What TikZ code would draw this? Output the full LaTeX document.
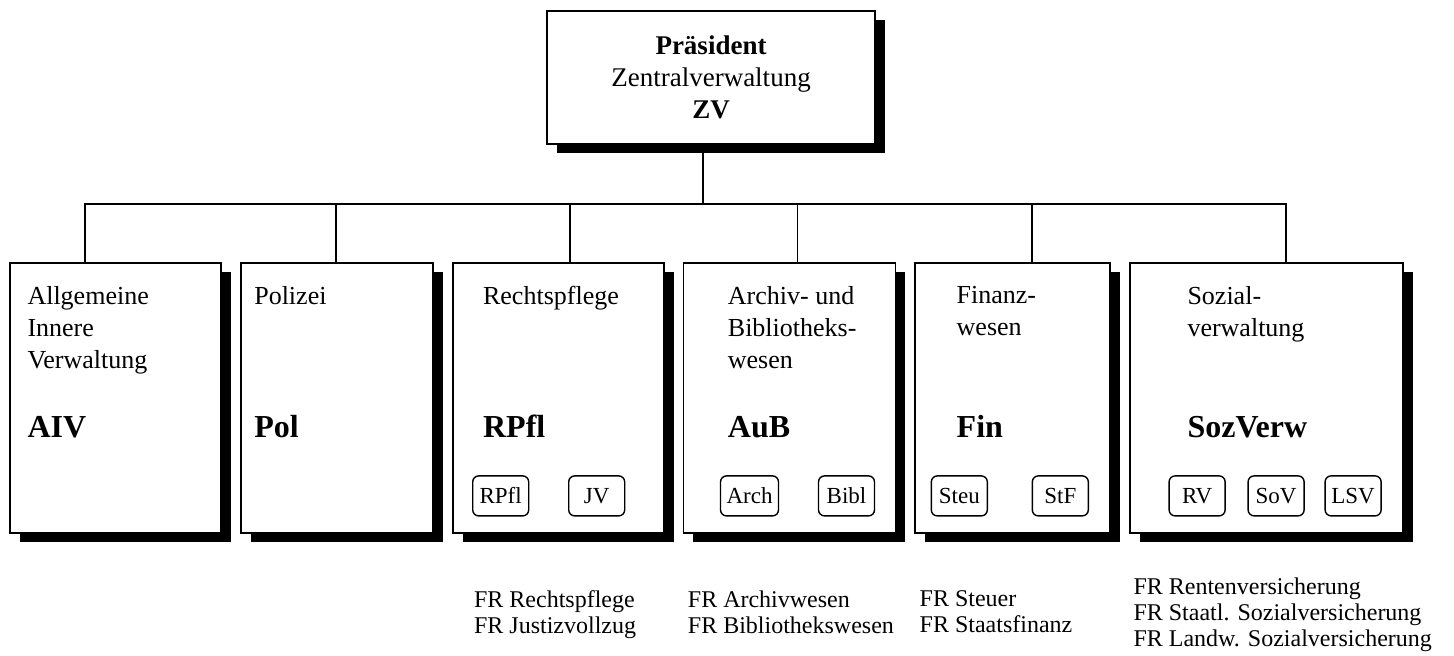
\documentclass[tikz,border=0pt]{standalone}
\usepackage{fontspec}
\setmainfont{Liberation Serif}
\usepackage{tikz}
\usetikzlibrary{positioning,calc,shadows}

\begin{document}
\begin{tikzpicture}[
  node distance=9pt,
  line/.style={line width=0.9pt},
  dept/.style={rectangle, draw, line width=0.9pt, fill=white, minimum height=135pt, inner sep=0pt,
    drop shadow={shadow xshift=5pt, shadow yshift=-4.5pt, fill=black, opacity=1}},
  head/.style={dept, minimum width=164pt, minimum height=66.5pt, align=center, font=\fontsize{13.5}{16}\selectfont},
  txt/.style={anchor=north west, inner sep=0pt, align=left, font=\fontsize{13}{16}\selectfont},
  abbr/.style={anchor=base west, inner sep=0pt, font=\fontsize{16}{19}\selectfont\bfseries},
  sub/.style={draw, rounded corners=3pt, line width=0.7pt, minimum width=28pt, minimum height=20pt, inner xsep=3pt, font=\fontsize{11.5}{13}\selectfont},
  fr/.style={anchor=north west, inner sep=0pt, align=left, font=\fontsize{12}{13}\selectfont}
]
  \useasboundingbox (0,0) rectangle (727pt,-328pt);

  % Leitung
  \node[head] (zv) at (355.5pt,-38.75pt) {\textbf{Präsident}\\Zentralverwaltung\\\textbf{ZV}};

  % Abteilungen
  \node[dept, minimum width=105.5pt] (aiv) at (57.75pt,-199pt) {};
  \node[dept, minimum width=96pt, right=of aiv] (pol) {};
  \node[dept, minimum width=105.5pt, right=of pol] (rpfl) {};
  \node[dept, minimum width=106pt, right=of rpfl] (aub) {};
  \node[dept, minimum width=97.5pt, right=of aub] (fin) {};
  \node[dept, minimum width=136.5pt, right=of fin] (soz) {};

  % Verbindungen
  \coordinate (bus) at ($(zv.south)+(-4pt,-29.75pt)$);
  \draw[line] ([xshift=-4pt]zv.south) -- (bus);
  \draw[line] ([xshift=-15.25pt]aiv.north) |- (bus) -| ([xshift=9.75pt]soz.north);
  \draw[line] ([xshift=-0.5pt]pol.north) -- ([xshift=-0.5pt]pol.north |- bus);
  \draw[line] ([xshift=5.75pt]rpfl.north) -- ([xshift=5.75pt]rpfl.north |- bus);
  \draw[line] ([xshift=4pt]aub.north) -- ([xshift=4pt]aub.north |- bus);
  \draw[line] ([xshift=9.75pt]fin.north) -- ([xshift=9.75pt]fin.north |- bus);

  % Beschriftungen
  \node[txt] (aiv-t) at ($(aiv.north west)+(9pt,-12pt)$) {Allgemeine\\Innere\\Verwaltung};
  \node[abbr] (aiv-a) at ($(aiv.north west)+(9pt,-87.5pt)$) {AIV};
  \node[txt] (pol-t) at ($(pol.north west)+(7pt,-12pt)$) {Polizei};
  \node[abbr] (pol-a) at ($(pol.north west)+(7pt,-87.5pt)$) {Pol};
  \node[txt] (rpfl-t) at ($(rpfl.north west)+(15.5pt,-12pt)$) {Rechtspflege};
  \node[abbr] (rpfl-a) at ($(rpfl.north west)+(15.5pt,-87.5pt)$) {RPfl};
  \node[txt] (aub-t) at ($(aub.north west)+(22.5pt,-12pt)$) {Archiv- und\\Bibliotheks-\\wesen};
  \node[abbr] (aub-a) at ($(aub.north west)+(22.5pt,-87.5pt)$) {AuB};
  \node[txt] (fin-t) at ($(fin.north west)+(21pt,-12pt)$) {Finanz-\\wesen};
  \node[abbr] (fin-a) at ($(fin.north west)+(21pt,-87.5pt)$) {Fin};
  \node[txt] (soz-t) at ($(soz.north west)+(29pt,-12pt)$) {Sozial-\\verwaltung};
  \node[abbr] (soz-a) at ($(soz.north west)+(29pt,-87.5pt)$) {SozVerw};

  % Referate
  \node[sub] (rpfl-1) at ($(rpfl.south west)+(24.5pt,19pt)$) {RPfl};
  \node[sub] (rpfl-2) at ($(rpfl.south west)+(72.5pt,19pt)$) {JV};
  \node[sub] (aub-1) at ($(aub.south west)+(33.5pt,19pt)$) {Arch};
  \node[sub] (aub-2) at ($(aub.south west)+(82pt,19pt)$) {Bibl};
  \node[sub] (fin-1) at ($(fin.south west)+(22.5pt,19pt)$) {Steu};
  \node[sub] (fin-2) at ($(fin.south west)+(73pt,19pt)$) {StF};
  \node[sub] (soz-1) at ($(soz.south west)+(34pt,19pt)$) {RV};
  \node[sub] (soz-2) at ($(soz.south west)+(73.5pt,19pt)$) {SoV};
  \node[sub] (soz-3) at ($(soz.south west)+(112pt,19pt)$) {LSV};

  % Fachrichtungen
  \node[fr] (rpfl-fr) at ($(rpfl.south west)+(11pt,-28.3pt)$) {FR Rechtspflege\\FR Justizvollzug};
  \node[fr] (aub-fr) at ($(aub.south west)+(2.5pt,-28.3pt)$) {FR Archivwesen\\FR Bibliothekswesen};
  \node[fr] (fin-fr) at ($(fin.south west)+(2.5pt,-28.3pt)$) {FR Steuer\\FR Staatsfinanz};
  \node[fr] (soz-fr) at ($(soz.south west)+(2pt,-21.8pt)$) {FR Rentenversicherung\\FR Staatl. Sozialversicherung\\FR Landw. Sozialversicherung};
\end{tikzpicture}
\end{document}
